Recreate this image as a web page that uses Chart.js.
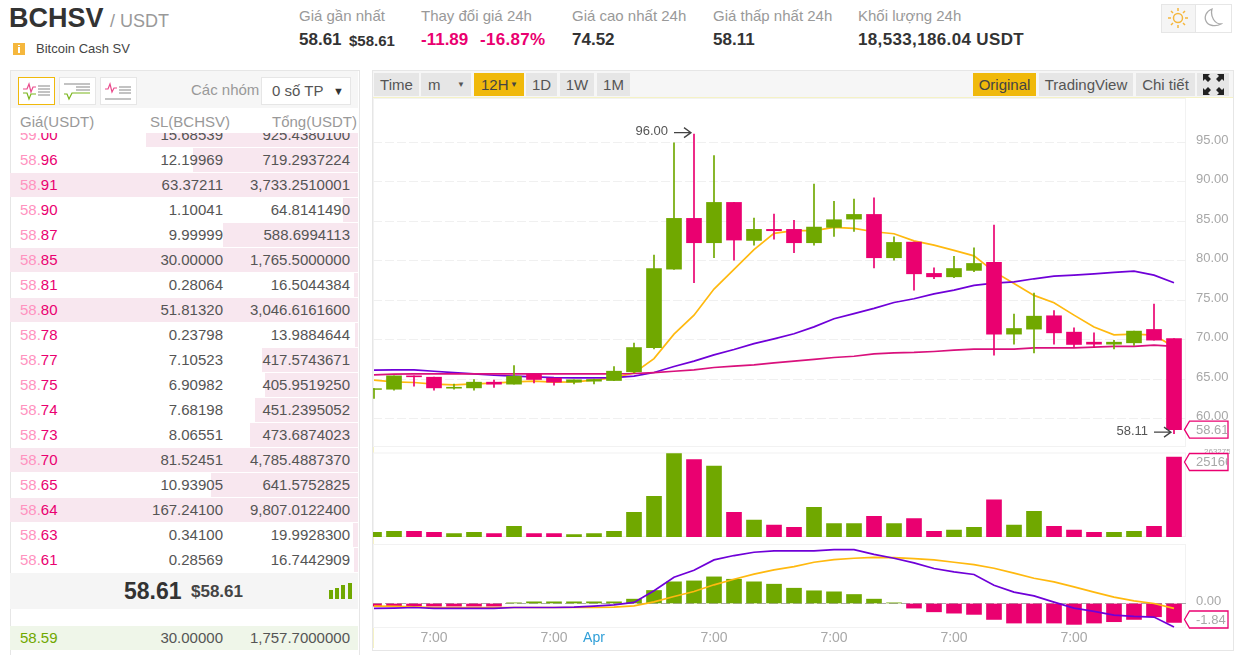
<!DOCTYPE html>
<html>
<head>
<meta charset="utf-8">
<title>BCHSV / USDT</title>
<script src="https://cdn.jsdelivr.net/npm/chart.js@4/dist/chart.umd.min.js"></script>
<style>
  html, body { margin: 0; padding: 0; background: #fff; }
  body { width: 1241px; height: 655px; overflow: hidden; position: relative; font-family: Arial, "Liberation Sans", sans-serif; color: #333; }
  .a { position: absolute; white-space: nowrap; }
  .label { font-size: 15px; color: #999; top: 7px; line-height: 18px; }
  .value { font-weight: bold; font-size: 17px; color: #333; top: 30px; line-height: 20px; }
  .small { font-size: 15px; }
  .pink { color: #ea0070; }
  .btn { position: absolute; top: 73px; height: 23px; line-height: 23px; background: #e6e6e6; text-align: center; font-size: 15px; color: #555; }
  .btn.on { background: #f0b90b; color: #444; }
  .row { position: absolute; left: 0; width: 348px; height: 24px; line-height: 24px; font-size: 15px; color: #555; }
  .depth { position: absolute; right: 0; top: 0; height: 24px; background: #f8e7ef; }
  .price { position: absolute; left: 10px; color: #ea0070; }
  .price i { font-style: normal; color: #ff93bf; }
  .amount { position: absolute; right: 135px; }
  .total { position: absolute; right: 8px; }
  .icon { position: absolute; top: 77px; width: 35px; height: 26px; background: #fff; border: 1px solid #e6e6e6; }
  canvas { position: absolute; display: block; }
</style>
</head>
<body>

<!-- page header -->
<div class="a" style="left:9px;top:0;font-size:27px;font-weight:bold;line-height:36px;color:#333">BCHSV</div>
<div class="a" style="left:110px;top:10px;font-size:18px;line-height:22px;color:#999">/ USDT</div>
<svg class="a" style="left:13px;top:42px" width="13" height="14"><rect x="0" y="1" width="12" height="12" fill="#f5b73d"/><rect x="5" y="5" width="2" height="6" fill="#fff"/><rect x="5" y="3" width="2" height="1" fill="#fff"/></svg>
<div class="a" style="left:36px;top:41px;font-size:13px;line-height:16px;color:#444">Bitcoin Cash SV</div>

<div class="a label" style="left:299px">Giá gần nhất</div>
<div class="a value" style="left:299px">58.61</div>
<div class="a value small" style="left:349px;top:31px">$58.61</div>
<div class="a label" style="left:421px">Thay đổi giá 24h</div>
<div class="a value pink" style="left:421px">-11.89</div>
<div class="a value pink" style="left:480px;letter-spacing:.3px">-16.87%</div>
<div class="a label" style="left:572px">Giá cao nhất 24h</div>
<div class="a value" style="left:572px">74.52</div>
<div class="a label" style="left:713px">Giá thấp nhất 24h</div>
<div class="a value" style="left:713px">58.11</div>
<div class="a label" style="left:858px">Khối lượng 24h</div>
<div class="a value" style="left:858px;letter-spacing:.35px">18,533,186.04 USDT</div>

<div class="a" style="left:1161px;top:4px;width:33px;height:27px;background:#f5f5f5;border:1px solid #e6e6e6"></div>
<div class="a" style="left:1195px;top:4px;width:35px;height:27px;border:1px solid #e6e6e6"></div>
<svg class="a" style="left:1168px;top:8px" width="20" height="20" stroke="#f5b73d" fill="none" stroke-width="1.5">
  <circle cx="10" cy="10" r="4.5"/><path d="M10 0v3M10 17v3M0 10h3M17 10h3M3 3l2 2M15 15l2 2M3 17l2-2M15 5l2-2"/>
</svg>
<svg class="a" style="left:1203px;top:8px" width="20" height="20" stroke="#aaa" fill="none" stroke-width="1.3">
  <path d="M9 1C3 3 1 9 3 13c2 5 10 6 15 3C12 16 7 9 9 1z"/>
</svg>

<!-- order book -->
<div class="a" style="left:10px;top:70px;width:348px;height:585px;border:1px solid #e6e6e6;border-bottom:0"></div>
<div class="a" style="left:11px;top:71px;width:347px;height:37px;background:#f6f6f6"></div>
<div class="icon" style="left:18px;border-color:#f0b90b"></div>
<div class="icon" style="left:59px"></div>
<div class="icon" style="left:100px"></div>
<svg class="a" style="left:18px;top:77px" width="120" height="27" fill="none" stroke-width="1.2">
  <path d="M5 12h4l2-5 2 8 2-5h3" stroke="#ea4a8c"/><path d="M5 16h4l2 6 2-5h5" stroke="#7ab51d"/><path d="M20 9h12M20 12h12M20 15h12M20 18h12" stroke="#888"/>
  <path d="M46 17h3l2 5 3-6h18" stroke="#7ab51d"/><path d="M46 7h26M58 10h14M58 13h14" stroke="#888"/>
  <path d="M87 12h3l2-5 2 8 2-4h3" stroke="#ea4a8c"/><path d="M101 10h12M101 13h12M101 16h12M87 22h26" stroke="#888"/>
</svg>
<div class="a" style="left:191px;top:81px;font-size:15px;line-height:18px;color:#999">Các nhóm</div>
<div class="a" style="left:261px;top:77px;width:88px;height:26px;line-height:26px;background:#fff;border:1px solid #e6e6e6;font-size:15px;color:#555">
  <span style="position:absolute;left:10px">0 số TP</span><span style="position:absolute;right:6px;font-size:11px;color:#333">&#9660;</span>
</div>
<div class="a" style="left:20px;top:113px;font-size:15px;line-height:18px;color:#999">Giá(USDT)</div>
<div class="a" style="right:1011px;top:113px;font-size:15px;line-height:18px;color:#999">SL(BCHSV)</div>
<div class="a" style="right:884px;top:113px;font-size:15px;line-height:18px;color:#999">Tổng(USDT)</div>
<div id="asks" class="a" style="left:10px;top:133px;width:348px;height:440px;overflow:hidden"></div>
<div class="a" style="left:10px;top:573px;width:348px;height:36px;background:#f5f5f5"></div>
<div class="a" style="left:124px;top:577px;font-size:23px;font-weight:bold;line-height:28px;color:#333">58.61</div>
<div class="a" style="left:191px;top:581px;font-size:17px;font-weight:bold;line-height:22px;color:#444">$58.61</div>
<div class="a" style="left:329px;top:590px;width:4px;height:9px;background:#70a800"></div>
<div class="a" style="left:335px;top:588px;width:4px;height:11px;background:#70a800"></div>
<div class="a" style="left:341px;top:585px;width:4px;height:14px;background:#70a800"></div>
<div class="a" style="left:348px;top:583px;width:4px;height:16px;background:#70a800"></div>
<div class="row" style="left:10px;top:626px;background:#eff6e9">
  <span class="price" style="color:#70a800">58.59</span><span class="amount">30.00000</span><span class="total">1,757.7000000</span>
</div>

<!-- chart box -->
<div class="a" style="left:372px;top:70px;width:860px;height:579px;border:1px solid #e6e6e6"></div>
<div class="a" style="left:373px;top:71px;width:860px;height:26px;background:#f6f6f6;border-bottom:1px solid #f5f2c6"></div>
<div class="a" style="left:373px;top:98px;width:1px;height:550px;background:#f5f2c6"></div>
<div class="btn" style="left:374px;width:45px">Time</div>
<div class="btn" style="left:421px;width:50px;text-align:left"><span style="margin-left:7px">m</span><span style="position:absolute;right:6px;font-size:8px">&#9660;</span></div>
<div class="btn on" style="left:474px;width:50px;text-align:left"><span style="margin-left:7px">12H</span><span style="position:absolute;right:6px;font-size:8px">&#9660;</span></div>
<div class="btn" style="left:526px;width:31px">1D</div>
<div class="btn" style="left:560px;width:34px">1W</div>
<div class="btn" style="left:597px;width:33px">1M</div>
<div class="btn on" style="left:973px;width:63px">Original</div>
<div class="btn" style="left:1039px;width:94px">TradingView</div>
<div class="btn" style="left:1136px;width:59px">Chi tiết</div>
<div class="btn" style="left:1197px;width:32px"></div>
<svg class="a" style="left:1203px;top:74px" width="21" height="21" fill="#222">
  <path d="M0 0h7l-2 2 3 3-3 3-3-3-2 2zM21 0v7l-2-2-3 3-3-3 3-3-2-2zM0 21v-7l2 2 3-3 3 3-3 3 2 2zM21 21h-7l2-2-3-3 3-3 3 3 2-2z"/>
</svg>

<canvas id="priceChart" width="857" height="349" style="left:373px;top:98px"></canvas>
<canvas id="volumeChart" width="857" height="92" style="left:373px;top:445px"></canvas>
<canvas id="macdChart" width="857" height="106" style="left:373px;top:544px"></canvas>

<script>
  // order book
  const askPrices = ['59.00', '58.96', '58.91', '58.90', '58.87', '58.85', '58.81', '58.80', '58.78', '58.77', '58.75', '58.74', '58.73', '58.70', '58.65', '58.64', '58.63', '58.61'];
  const askAmounts = ['15.68539', '12.19969', '63.37211', '1.10041', '9.99999', '30.00000', '0.28064', '51.81320', '0.23798', '7.10523', '6.90982', '7.68198', '8.06551', '81.52451', '10.93905', '167.24100', '0.34100', '0.28569'];
  const askTotals = ['925.4380100', '719.2937224', '3,733.2510001', '64.8141490', '588.6994113', '1,765.5000000', '16.5044384', '3,046.6161600', '13.9884644', '417.5743671', '405.9519250', '451.2395052', '473.6874023', '4,785.4887370', '641.5752825', '9,807.0122400', '19.9928300', '16.7442909'];

  // candles, oldest first
  const candleOpen = [63.7, 63.73, 65.42, 65.25, 63.86, 63.9, 64.62, 64.37, 65.63, 65.13, 64.62, 64.75, 64.83, 65.93, 68.97, 78.92, 85.34, 82.26, 87.36, 82.55, 83.95, 83.95, 82.26, 84.2, 85.25, 85.84, 80.36, 82.34, 78.38, 77.95, 78.76, 79.77, 70.7, 71.33, 73.02, 70.95, 69.68, 69.43, 69.6, 71.29, 70.15];
  const candleClose = [63.8, 65.42, 65.3, 63.9, 63.98, 64.62, 64.37, 65.38, 64.96, 64.62, 64.92, 64.96, 66.01, 69.0, 79.0, 85.34, 82.26, 87.36, 82.6, 83.95, 83.78, 82.26, 84.24, 85.17, 85.84, 80.36, 82.3, 78.33, 77.95, 79.0, 79.64, 70.7, 71.41, 72.97, 70.86, 69.39, 69.43, 69.68, 71.08, 69.94, 58.61];
  const candleHigh = [63.8, 65.42, 65.42, 65.25, 64.37, 64.96, 64.87, 66.73, 65.63, 65.13, 64.92, 65.0, 66.6, 69.56, 80.7, 94.9, 96.0, 93.3, 87.36, 85.38, 85.89, 85.08, 89.68, 87.49, 87.78, 87.95, 83.02, 82.34, 79.09, 80.53, 81.62, 84.49, 73.23, 75.89, 73.69, 71.5, 70.86, 69.9, 71.08, 74.49, 70.15];
  const candleLow = [62.55, 63.6, 64.1, 63.6, 63.73, 63.6, 63.95, 64.37, 64.53, 64.24, 64.4, 64.4, 64.8, 65.8, 68.84, 78.9, 77.2, 80.36, 80.06, 81.96, 82.72, 80.99, 81.96, 83.06, 83.69, 79.09, 80.06, 76.27, 77.7, 77.83, 78.59, 68.04, 69.43, 68.33, 69.43, 69.09, 68.97, 68.84, 69.26, 69.94, 58.11];

  // moving averages on the price panel
  const maFast = [64.87, 64.66, 64.58, 64.37, 64.28, 64.41, 64.49, 64.66, 64.75, 64.62, 64.66, 64.87, 65.2, 65.8, 67.6, 70.7, 73.1, 76.4, 78.9, 81.4, 83.44, 83.8, 83.8, 84.2, 84.07, 83.65, 83.4, 82.5, 81.96, 81.3, 80.6, 78.6, 77.1, 75.6, 74.66, 73.1, 71.6, 70.6, 70.7, 70.57, 69.1];
  const maMid = [66.14, 66.18, 66.18, 66.0, 65.84, 65.67, 65.5, 65.38, 65.3, 65.2, 65.17, 65.17, 65.2, 65.38, 65.84, 66.6, 67.28, 68.08, 68.75, 69.5, 70.1, 70.74, 71.62, 72.64, 73.3, 73.95, 74.7, 75.17, 75.8, 76.27, 76.86, 77.15, 77.3, 77.7, 78.04, 78.16, 78.33, 78.5, 78.67, 78.16, 77.2];
  const maSlow = [65.55, 65.63, 65.67, 65.67, 65.67, 65.67, 65.67, 65.67, 65.67, 65.67, 65.67, 65.67, 65.67, 65.72, 65.84, 66.0, 66.18, 66.48, 66.65, 66.8, 67.07, 67.28, 67.5, 67.74, 67.9, 68.2, 68.33, 68.38, 68.5, 68.67, 68.8, 68.8, 68.8, 68.97, 68.97, 68.97, 69.05, 69.14, 69.14, 69.3, 69.14];

  const volumes = [14742, 17901, 17901, 14742, 10530, 14742, 10530, 33696, 10530, 10530, 7371, 10530, 17901, 77922, 128466, 263250, 244296, 223236, 77922, 53703, 37908, 30537, 93717, 42120, 42120, 65286, 42120, 57915, 17901, 22113, 30537, 116883, 37908, 81081, 33696, 22113, 14742, 14742, 17901, 33696, 251660];

  const macdHist = [-0.26, -0.26, -0.26, -0.26, -0.26, -0.26, -0.26, 0.06, 0.16, 0.16, 0.16, 0.16, 0.16, 0.42, 1.26, 2.1, 2.19, 2.58, 2.35, 2.1, 1.87, 1.48, 1.23, 1.13, 0.87, 0.42, 0.06, -0.45, -0.81, -0.94, -1.06, -1.55, -1.9, -1.9, -1.9, -2.03, -1.9, -1.77, -1.55, -1.29, -1.84];
  const macdDif = [-0.48, -0.45, -0.39, -0.48, -0.48, -0.48, -0.48, -0.39, -0.39, -0.39, -0.35, -0.26, -0.13, 0.1, 1.23, 2.55, 3.23, 4.23, 4.65, 4.97, 5.1, 5.1, 5.1, 5.23, 5.23, 4.77, 4.39, 3.94, 3.39, 3.06, 2.81, 1.77, 1.1, 0.74, 0.13, -0.45, -0.77, -1.13, -1.26, -1.32, -2.29];
  const macdDea = [-0.26, -0.29, -0.32, -0.39, -0.39, -0.39, -0.39, -0.39, -0.39, -0.39, -0.39, -0.39, -0.35, -0.23, 0.16, 0.68, 1.16, 1.81, 2.35, 2.84, 3.26, 3.58, 4.0, 4.26, 4.39, 4.48, 4.45, 4.35, 4.23, 4.0, 3.77, 3.42, 2.94, 2.45, 2.1, 1.61, 1.1, 0.61, 0.26, 0, -0.48];

  // tick labels
  const priceTicks = [60, 65, 70, 75, 80, 85, 90, 95];
  const macdTicks = [0];
  const volumeTicks = [263275.5];
  const timeTickIndex = [3, 9, 11, 17, 23, 29, 35];
  const timeTickLabels = ['7:00', '7:00', 'Apr', '7:00', '7:00', '7:00', '7:00'];

  const GREEN = '#70a800';
  const RED = '#ea0070';
  const YELLOW = '#ffb90f';
  const PURPLE = '#6f00d8';
  const MAGENTA = '#d9107c';
  const AXIS_GREY = '#a8a8a8';
  const FONT = 'Arial, "Liberation Sans", sans-serif';

  // build order book rows
  const asks = document.getElementById('asks');
  askPrices.forEach((p, i) => {
    const row = document.createElement('div');
    row.className = 'row';
    row.style.top = (i * 25 - 10) + 'px';
    const w = Math.min(348, parseFloat(askTotals[i].replace(/,/g, '')) * 0.229);
    const dec = p.split('.');
    row.innerHTML = '<div class="depth" style="width:' + w + 'px"></div>' +
      '<span class="price"><i>' + dec[0] + '.</i>' + dec[1] + '</span>' +
      '<span class="amount">' + askAmounts[i] + '</span>' +
      '<span class="total">' + askTotals[i] + '</span>';
    asks.appendChild(row);
  });

  const pts = arr => arr.map((y, x) => ({ x, y }));
  const upColors = candleOpen.map((o, i) => candleClose[i] >= o ? GREEN : RED);
  const histColors = macdHist.map(v => v >= 0 ? GREEN : RED);

  const lineSet = (data, color, order) => ({
    type: 'line', data: pts(data), borderColor: color, borderWidth: 1.7,
    pointRadius: 0, tension: 0, order
  });
  const barSet = (data, colors, thickness, order) => ({
    type: 'bar', data, backgroundColor: colors, barThickness: thickness, borderWidth: 0, order
  });

  // x runs over candle indexes, 20px each
  const xAxis = show => ({
    type: 'linear', min: -0.05, max: 40.6, offset: false, stacked: true, display: show,
    grid: { display: false, offset: false, drawTicks: false, tickLength: 0 }, border: { display: false },
    afterBuildTicks: s => { s.ticks = timeTickIndex.map(value => ({ value })); },
    afterFit: s => { s.height = show ? 22 : 0; s.paddingLeft = 0; s.paddingRight = 0; },
    ticks: {
      autoSkip: false, maxRotation: 0, padding: 2, font: { family: FONT, size: 14 },
      color: c => timeTickLabels[timeTickIndex.indexOf(c.tick.value)] === 'Apr' ? '#2f9fd8' : AXIS_GREY,
      callback: v => timeTickLabels[timeTickIndex.indexOf(v)]
    }
  });
  const yAxis = (min, max, tickValues, label, size) => ({
    position: 'right', min, max,
    afterBuildTicks: s => { s.ticks = tickValues.map(value => ({ value })); },
    // the tick labels may hang over the plot ends, no margin for them
    afterFit: s => { s.width = 44; s.paddingTop = 0; s.paddingBottom = 0; },
    border: { display: false, dash: [9, 3] },
    grid: { drawTicks: false, color: c => c.tick && c.tick.value === 0 ? '#aaaaaa' : '#f0f0f0' },
    ticks: { autoSkip: false, padding: 10, labelOffset: -2, color: AXIS_GREY, font: { family: FONT, size }, callback: label }
  });

  const framePlugin = {
    id: 'frame',
    beforeDraw(chart) {
      const a = chart.chartArea, c = chart.ctx;
      c.save();
      c.strokeStyle = '#f2f2f2';
      c.lineWidth = 1;
      c.strokeRect(a.left + 0.5, a.top + 0.5, a.right - a.left - 1, a.bottom - a.top - 1);
      c.restore();
    }
  };

  // pink price tag at the right edge, kept inside the panel
  const tagPlugin = (value, text) => ({
    id: 'tag',
    afterDraw(chart) {
      const a = chart.chartArea, c = chart.ctx;
      const y = Math.min(Math.max(chart.scales.y.getPixelForValue(value), a.top + 9.5), a.bottom - 8.5);
      const x = a.right - 1.5;
      c.save();
      c.beginPath();
      c.moveTo(x, y);
      c.lineTo(x + 5, y - 8.5);
      c.lineTo(x + 43.5, y - 8.5);
      c.lineTo(x + 43.5, y + 8.5);
      c.lineTo(x + 5, y + 8.5);
      c.closePath();
      c.fillStyle = '#fff';
      c.fill();
      c.strokeStyle = RED;
      c.lineWidth = 1.3;
      c.stroke();
      c.beginPath();
      c.rect(x + 5, y - 8, 38, 16);
      c.clip();
      c.fillStyle = AXIS_GREY;
      c.font = '13px ' + FONT;
      c.textBaseline = 'middle';
      c.fillText(text, a.right + 10, y + 0.5);
      c.restore();
    }
  });

  // high / low arrows pointing at the wick ends
  const extremesPlugin = {
    id: 'extremes',
    afterDatasetsDraw(chart) {
      const c = chart.ctx;
      const marks = [candleHigh.indexOf(Math.max(...candleHigh)), candleLow.indexOf(Math.min(...candleLow))];
      marks.forEach((i, n) => {
        const v = n === 0 ? candleHigh[i] : candleLow[i];
        const x = chart.scales.x.getPixelForValue(i) - 3;
        const y = chart.scales.y.getPixelForValue(v) - 1.5;
        c.save();
        c.fillStyle = '#555';
        c.strokeStyle = '#444';
        c.lineWidth = 1.3;
        c.font = '13px ' + FONT;
        c.textAlign = 'right';
        c.textBaseline = 'middle';
        c.fillText(v.toFixed(2), x - 23, y - 1);
        c.beginPath();
        c.moveTo(x - 17, y);
        c.lineTo(x, y);
        c.moveTo(x - 7, y - 5);
        c.lineTo(x, y);
        c.lineTo(x - 7, y + 5);
        c.stroke();
        c.restore();
      });
    }
  };

  const baseOptions = (scales, padding) => ({
    responsive: false, animation: false, events: [],
    devicePixelRatio: 1,
    layout: { padding, autoPadding: false },
    plugins: { legend: { display: false }, tooltip: { enabled: false } },
    scales
  });

  // Price panel
  new Chart(document.getElementById('priceChart'), {
    type: 'bar',
    data: {
      datasets: [
        lineSet(maSlow, MAGENTA, 3),
        lineSet(maMid, PURPLE, 3),
        lineSet(maFast, YELLOW, 3),
        barSet(candleLow.map((l, x) => ({ x, y: [l, candleHigh[x]] })), upColors, 1, 2),
        barSet(candleOpen.map((o, x) => ({ x, y: [o, candleClose[x]] })), upColors, 15, 1)
      ]
    },
    options: baseOptions({
      x: xAxis(false),
      y: yAxis(56.42, 100.57, priceTicks, v => v.toFixed(2), 13)
    }, 0),
    plugins: [framePlugin, extremesPlugin, tagPlugin(candleClose[40], '58.61')]
  });

  // Volume panel
  new Chart(document.getElementById('volumeChart'), {
    type: 'bar',
    data: { datasets: [barSet(pts(volumes), upColors, 15, 1)] },
    options: baseOptions({
      x: xAxis(false),
      y: Object.assign(yAxis(0, 266400, volumeTicks, v => String(v), 8), {
        grid: { display: false }
      })
    }, { top: 7.5 }),
    plugins: [framePlugin, tagPlugin(volumes[40], '251660')]
  });

  // MACD panel
  new Chart(document.getElementById('macdChart'), {
    type: 'bar',
    data: {
      datasets: [
        barSet(pts(macdHist), histColors, 15, 3),
        lineSet(macdDea, YELLOW, 2),
        lineSet(macdDif, PURPLE, 1)
      ]
    },
    options: baseOptions({
      x: xAxis(true),
      y: yAxis(-2.38, 5.77, macdTicks, v => v.toFixed(2), 13)
    }, 0),
    plugins: [framePlugin, tagPlugin(macdHist[40], '-1.84')]
  });
</script>
</body>
</html>
